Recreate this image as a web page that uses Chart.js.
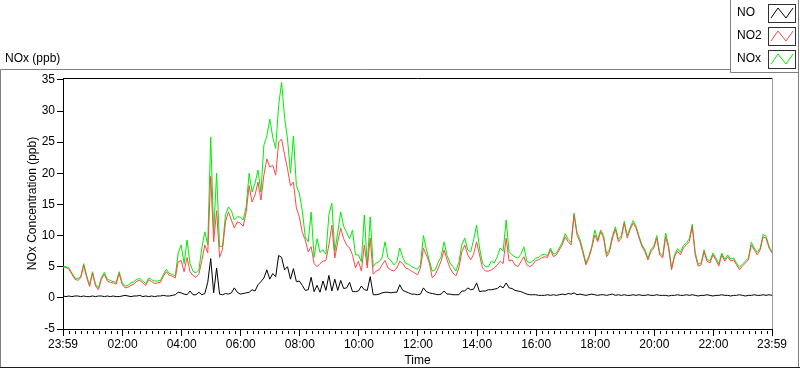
<!DOCTYPE html>
<html>
<head>
<meta charset="utf-8">
<title>NOx (ppb)</title>
<script src="https://cdn.jsdelivr.net/npm/chart.js@4.4.1/dist/chart.umd.min.js"></script>
<style>
  html, body { margin: 0; padding: 0; background: #fff; }
  canvas { display: block; }
</style>
</head>
<body>
<canvas id="noxChart" width="800" height="369"></canvas>
<script>
// readings every 6 minutes, first one at 23:59 of the day before
const startMinute = -1;
const stepMinutes = 6;

const no = [
  0.3, 0.2, 0.3, 0.2, 0.3, 0.3, 0.2, 0.3, 0.2, 0.2,
  0.3, 0.2, 0.3, 0.3, 0.2, 0.3, 0.2, 0.3, 0.2, 0.2,
  0.3, 0.4, 0.3, 0.2, 0.3, 0.3, 0.4, 0.2, 0.3, 0.2,
  0.3, 0.2, 0.3, 0.3, 0.4, 0.3, 0.3, 0.4, 0.5, 0.9,
  0.8, 0.6, 0.5, 1.1, 0.5, 0.5, 0.9, 0.5, 0.7, 2.5,
  6.3, 0.8, 4.8, 0.6, 0.5, 0.7, 0.6, 0.8, 1.6, 0.9,
  0.6, 0.7, 0.8, 0.9, 1.3, 1.1, 2.1, 2.6, 3.2, 4.5,
  3.0, 3.9, 3.4, 6.8, 6.5, 4.5, 5.0, 3.0, 4.7, 2.6,
  2.7, 2.0, 1.2, 1.3, 3.3, 1.0, 2.0, 0.9, 2.7, 1.2,
  3.6, 1.1, 3.0, 1.2, 2.8, 1.5, 1.6, 2.5, 1.0, 1.0,
  1.1, 1.9, 1.3, 1.2, 3.4, 0.5, 0.5, 0.6, 0.8, 0.9,
  0.9, 0.8, 0.9, 0.9, 2.1, 1.2, 1.0, 0.8, 0.6, 0.6,
  0.5, 0.6, 1.6, 1.0, 0.8, 0.7, 0.6, 0.5, 0.6, 1.1,
  0.6, 0.6, 0.5, 0.5, 0.5, 1.1, 1.1, 1.6, 1.3, 1.4,
  2.4, 1.0, 1.1, 1.1, 1.3, 1.3, 1.4, 1.5, 1.9, 1.6,
  2.4, 1.6, 1.5, 1.2, 1.1, 1.0, 0.8, 0.6, 0.5, 0.5,
  0.5, 0.4, 0.4, 0.4, 0.5, 0.4, 0.5, 0.4, 0.5, 0.6,
  0.5, 0.7, 0.6, 0.8, 0.5, 0.6, 0.5, 0.4, 0.5, 0.6,
  0.5, 0.4, 0.5, 0.5, 0.4, 0.5, 0.6, 0.4, 0.5, 0.4,
  0.5, 0.4, 0.4, 0.5, 0.4, 0.5, 0.4, 0.4, 0.5, 0.4,
  0.4, 0.5, 0.4, 0.4, 0.4, 0.3, 0.4, 0.4, 0.5, 0.4,
  0.4, 0.5, 0.4, 0.5, 0.4, 0.3, 0.4, 0.4, 0.5, 0.4,
  0.3, 0.4, 0.4, 0.5, 0.4, 0.4, 0.3, 0.4, 0.4, 0.5,
  0.4, 0.3, 0.4, 0.4, 0.5, 0.4, 0.4, 0.5, 0.4, 0.5,
  0.4
];

const no2 = [
  4.8, 4.9, 4.6, 3.8, 3.0, 2.8, 3.2, 5.2, 3.3, 1.8,
  4.0, 1.9, 1.3, 3.0, 3.8, 2.7, 2.5, 2.4, 2.2, 3.9,
  2.2, 1.6, 1.7, 2.0, 2.2, 2.7, 2.8, 2.4, 2.0, 2.9,
  2.6, 2.3, 2.4, 2.5, 3.5, 4.2, 3.6, 3.5, 3.2, 5.8,
  6.0, 4.2, 6.5, 4.2, 3.6, 3.3, 3.8, 6.0, 8.5, 7.2,
  19.5, 9.0, 14.0, 6.5, 7.8, 12.2, 13.8, 12.5, 11.2, 12.2,
  12.0, 11.5, 13.8, 18.0, 15.4, 16.5, 18.6, 15.7, 19.7, 22.3,
  21.0, 21.3, 19.7, 25.0, 25.5, 23.0, 20.7, 18.0, 18.6, 14.4,
  13.0, 10.5, 9.3, 7.4, 8.2, 5.5, 5.0, 5.5, 5.9, 6.0,
  8.5, 11.7, 6.4, 9.0, 11.2, 9.5, 8.5, 8.0, 6.9, 4.8,
  5.9, 4.3, 8.5, 4.8, 9.6, 3.8, 4.3, 4.5, 5.3, 6.0,
  4.8, 4.5, 4.3, 4.8, 5.9, 5.5, 4.8, 4.6, 4.3, 4.0,
  3.7, 4.8, 8.0, 6.9, 5.6, 3.2, 3.7, 4.8, 5.9, 7.7,
  6.1, 4.8, 4.0, 3.5, 4.8, 7.4, 8.5, 6.9, 6.1, 7.0,
  9.0, 6.9, 4.8, 4.3, 4.3, 4.5, 4.8, 5.3, 5.9, 5.5,
  9.6, 5.9, 6.1, 5.3, 5.0, 5.8, 6.6, 5.3, 5.0, 5.3,
  6.0, 6.1, 6.4, 6.6, 6.5, 7.7, 6.6, 6.9, 7.7, 8.5,
  9.8, 9.0, 8.5, 13.3, 10.1, 9.0, 7.2, 5.3, 6.4, 8.0,
  10.1, 9.0, 10.6, 9.6, 6.6, 7.4, 9.6, 11.0, 9.0, 9.6,
  12.0, 9.6, 11.0, 12.0, 11.2, 9.6, 8.2, 7.4, 6.1, 7.4,
  8.0, 9.6, 6.9, 6.4, 9.8, 8.0, 4.5, 6.6, 7.5, 6.9,
  8.0, 8.5, 9.0, 11.5, 6.9, 5.1, 5.3, 7.4, 5.9, 5.6,
  6.9, 6.1, 5.1, 6.9, 5.9, 6.6, 5.9, 6.1, 5.3, 4.5,
  5.1, 5.6, 6.1, 8.5, 7.7, 6.9, 7.7, 9.8, 9.6, 8.0,
  7.2
];

const nox = [
  5.0, 5.0, 4.8, 4.0, 3.2, 3.1, 3.4, 5.5, 3.6, 2.1,
  4.2, 2.2, 1.6, 3.3, 4.1, 3.0, 2.8, 2.6, 2.5, 4.2,
  2.5, 1.9, 2.0, 2.4, 2.6, 3.0, 3.1, 2.7, 2.3, 3.2,
  2.9, 2.7, 2.7, 2.8, 3.8, 4.6, 3.9, 3.8, 3.5, 7.2,
  8.5, 5.5, 9.3, 5.5, 4.3, 4.0, 4.5, 8.0, 10.6, 8.5,
  25.8, 10.5, 20.0, 8.2, 8.3, 13.3, 14.6, 14.0, 12.5, 13.0,
  13.0, 12.5, 14.6, 20.0, 17.0, 18.4, 20.5, 17.0, 24.5, 26.0,
  28.7, 25.8, 24.0, 30.9, 34.6, 29.0, 25.5, 20.0, 26.0, 18.0,
  16.8, 14.0, 9.8, 9.0, 13.8, 6.5, 9.5, 7.3, 7.7, 7.0,
  13.3, 15.2, 7.5, 10.5, 13.8, 11.5, 10.5, 9.5, 10.9, 6.9,
  6.9, 5.8, 13.3, 5.3, 13.0, 5.0, 5.6, 5.8, 6.4, 9.0,
  6.4, 6.0, 5.3, 5.8, 8.0, 6.5, 5.5, 5.4, 5.0, 4.8,
  4.6, 5.3, 10.0, 7.8, 6.0, 4.3, 4.5, 5.7, 6.6, 9.0,
  6.8, 5.6, 5.0, 4.3, 5.7, 8.5, 9.6, 7.7, 7.4, 9.3,
  11.7, 8.0, 5.6, 5.0, 5.0, 5.9, 5.6, 6.6, 8.0, 7.5,
  12.5, 7.4, 6.9, 6.6, 6.4, 7.0, 8.2, 5.9, 5.6, 5.9,
  6.4, 6.5, 6.9, 7.0, 6.8, 8.0, 7.0, 7.2, 8.0, 8.9,
  10.3, 9.4, 8.9, 13.6, 10.5, 9.4, 7.6, 5.6, 6.7, 8.3,
  10.9, 9.3, 10.9, 10.0, 7.0, 7.8, 10.0, 11.4, 9.4, 10.0,
  12.3, 10.0, 11.3, 12.4, 11.5, 9.9, 8.5, 7.7, 6.4, 7.7,
  8.3, 10.0, 7.2, 6.7, 10.4, 8.4, 4.8, 6.9, 7.9, 7.3,
  8.4, 8.8, 9.5, 11.8, 7.3, 5.4, 5.6, 7.7, 6.2, 5.9,
  7.2, 6.4, 5.5, 7.2, 6.2, 6.9, 6.2, 6.4, 5.6, 4.9,
  5.4, 5.9, 6.4, 8.9, 8.0, 7.3, 8.0, 10.2, 9.9, 8.3,
  7.4
];

const xTickMinutes = [-1, 120, 240, 360, 480, 600, 720, 840, 960, 1080, 1200, 1320, 1439];
const xTickLabels = ['23:59', '02:00', '04:00', '06:00', '08:00', '10:00', '12:00',
                     '14:00', '16:00', '18:00', '20:00', '22:00', '23:59'];
const yTicks = [-5, 0, 5, 10, 15, 20, 25, 30, 35];

const seriesNames = ['NO', 'NO2', 'NOx'];
const seriesColors = ['#000000', '#ff4848', '#00ee00'];

const FONT = '"Liberation Sans", Arial, sans-serif';
Chart.defaults.font.family = FONT;
Chart.defaults.font.size = 12;
Chart.defaults.color = '#000';

function points(values) {
  return values.map((v, i) => ({ x: startMinute + i * stepMinutes, y: v }));
}

// frame, plot border, minor ticks, legend box
const panelPlugin = {
  id: 'panel',
  beforeDraw(chart) {
    const ctx = chart.ctx;
    ctx.save();
    ctx.fillStyle = '#fff';
    ctx.fillRect(0, 0, chart.width, chart.height);
    ctx.lineWidth = 1;
    ctx.strokeStyle = '#808080';
    ctx.beginPath();
    ctx.moveTo(0.5, 368);
    ctx.lineTo(0.5, 69.5);
    ctx.lineTo(730, 69.5);
    ctx.moveTo(798.5, 72);
    ctx.lineTo(798.5, 368);
    ctx.stroke();
    ctx.strokeStyle = '#202020';
    ctx.beginPath();
    ctx.moveTo(0, 367.5);
    ctx.lineTo(800, 367.5);
    ctx.stroke();
    ctx.restore();
  },
  afterDraw(chart) {
    const ctx = chart.ctx;
    const a = chart.chartArea;
    const xs = chart.scales.x;
    ctx.save();
    ctx.lineWidth = 1;

    // plot border top (black) and right (grey)
    ctx.strokeStyle = '#000';
    ctx.beginPath();
    ctx.moveTo(a.left, a.top + 0.5);
    ctx.lineTo(a.right, a.top + 0.5);
    ctx.stroke();
    ctx.strokeStyle = '#9a9a9a';
    ctx.beginPath();
    ctx.moveTo(a.right + 0.5, a.top);
    ctx.lineTo(a.right + 0.5, a.bottom);
    ctx.stroke();

    // minor ticks every 12 minutes
    ctx.strokeStyle = '#000';
    ctx.beginPath();
    for (let m = 12; m < 1439; m += 12) {
      if (m % 120 === 0) continue;
      const px = Math.round(xs.getPixelForValue(m)) + 0.5;
      ctx.moveTo(px, a.bottom + 2);
      ctx.lineTo(px, a.bottom + 5);
    }
    ctx.stroke();

    // panel caption
    ctx.font = '12px ' + FONT;
    ctx.fillStyle = '#000';
    ctx.textBaseline = 'middle';
    ctx.textAlign = 'left';
    ctx.fillText('NOx (ppb)', 5, 59);

    // legend box
    ctx.fillStyle = '#fff';
    ctx.fillRect(730, 0, 70, 72);
    ctx.strokeStyle = '#808080';
    ctx.beginPath();
    ctx.moveTo(730.5, 0);
    ctx.lineTo(730.5, 72.5);
    ctx.lineTo(799, 72.5);
    ctx.moveTo(798.5, 0);
    ctx.lineTo(798.5, 72);
    ctx.stroke();
    seriesNames.forEach((name, i) => {
      const cy = 13 + i * 23;
      ctx.fillStyle = '#000';
      ctx.fillText(name, 737, cy);
      const bx = 768, by = cy - 9, bw = 27, bh = 18;
      ctx.strokeStyle = '#303030';
      ctx.strokeRect(bx + 0.5, by + 0.5, bw, bh);
      ctx.strokeStyle = seriesColors[i];
      ctx.beginPath();
      ctx.moveTo(bx + 3, by + bh - 4);
      ctx.lineTo(bx + 10, by + 4);
      ctx.lineTo(bx + 18, by + bh - 4);
      ctx.lineTo(bx + 25, by + 4);
      ctx.stroke();
    });
    ctx.restore();
  }
};

const datasets = [no, no2, nox].map((values, i) => ({
  label: seriesNames[i],
  data: points(values),
  borderColor: seriesColors[i],
  backgroundColor: seriesColors[i],
  borderWidth: 1,
  pointRadius: 0,
  tension: 0,
  fill: false
}));

const myChart = new Chart(document.getElementById('noxChart'), {
  type: 'line',
  data: { datasets: datasets },
  options: {
    responsive: false,
    animation: false,
    devicePixelRatio: 1,
    layout: { padding: { left: 0, top: 78, right: 28, bottom: 0 } },
    plugins: {
      legend: { display: false },
      tooltip: { enabled: false }
    },
    scales: {
      x: {
        type: 'linear',
        min: -1,
        max: 1439,
        afterFit: (s) => { s.height = 40; },
        afterBuildTicks: (s) => { s.ticks = xTickMinutes.map(v => ({ value: v })); },
        grid: { drawOnChartArea: false, drawTicks: true, tickLength: 7, tickColor: '#000' },
        border: { display: true, color: '#000', width: 1 },
        ticks: {
          autoSkip: false,
          maxRotation: 0,
          padding: 1,
          color: '#000',
          callback: (value, index) => xTickLabels[index]
        },
        title: { display: true, text: 'Time', color: '#000', padding: { top: 0, bottom: 1 } }
      },
      y: {
        min: -5,
        max: 35.3,
        afterFit: (s) => { s.width = 63; },
        afterBuildTicks: (s) => { s.ticks = yTicks.map(v => ({ value: v })); },
        grid: { drawOnChartArea: false, drawTicks: true, tickLength: 6, tickColor: '#000' },
        border: { display: true, color: '#000', width: 1 },
        ticks: { padding: 2, color: '#000', callback: (value) => String(value) },
        title: { display: true, text: 'NOx Concentration (ppb)', color: '#000', padding: { top: 25, bottom: 0 } }
      }
    }
  },
  plugins: [panelPlugin]
});
</script>
</body>
</html>
